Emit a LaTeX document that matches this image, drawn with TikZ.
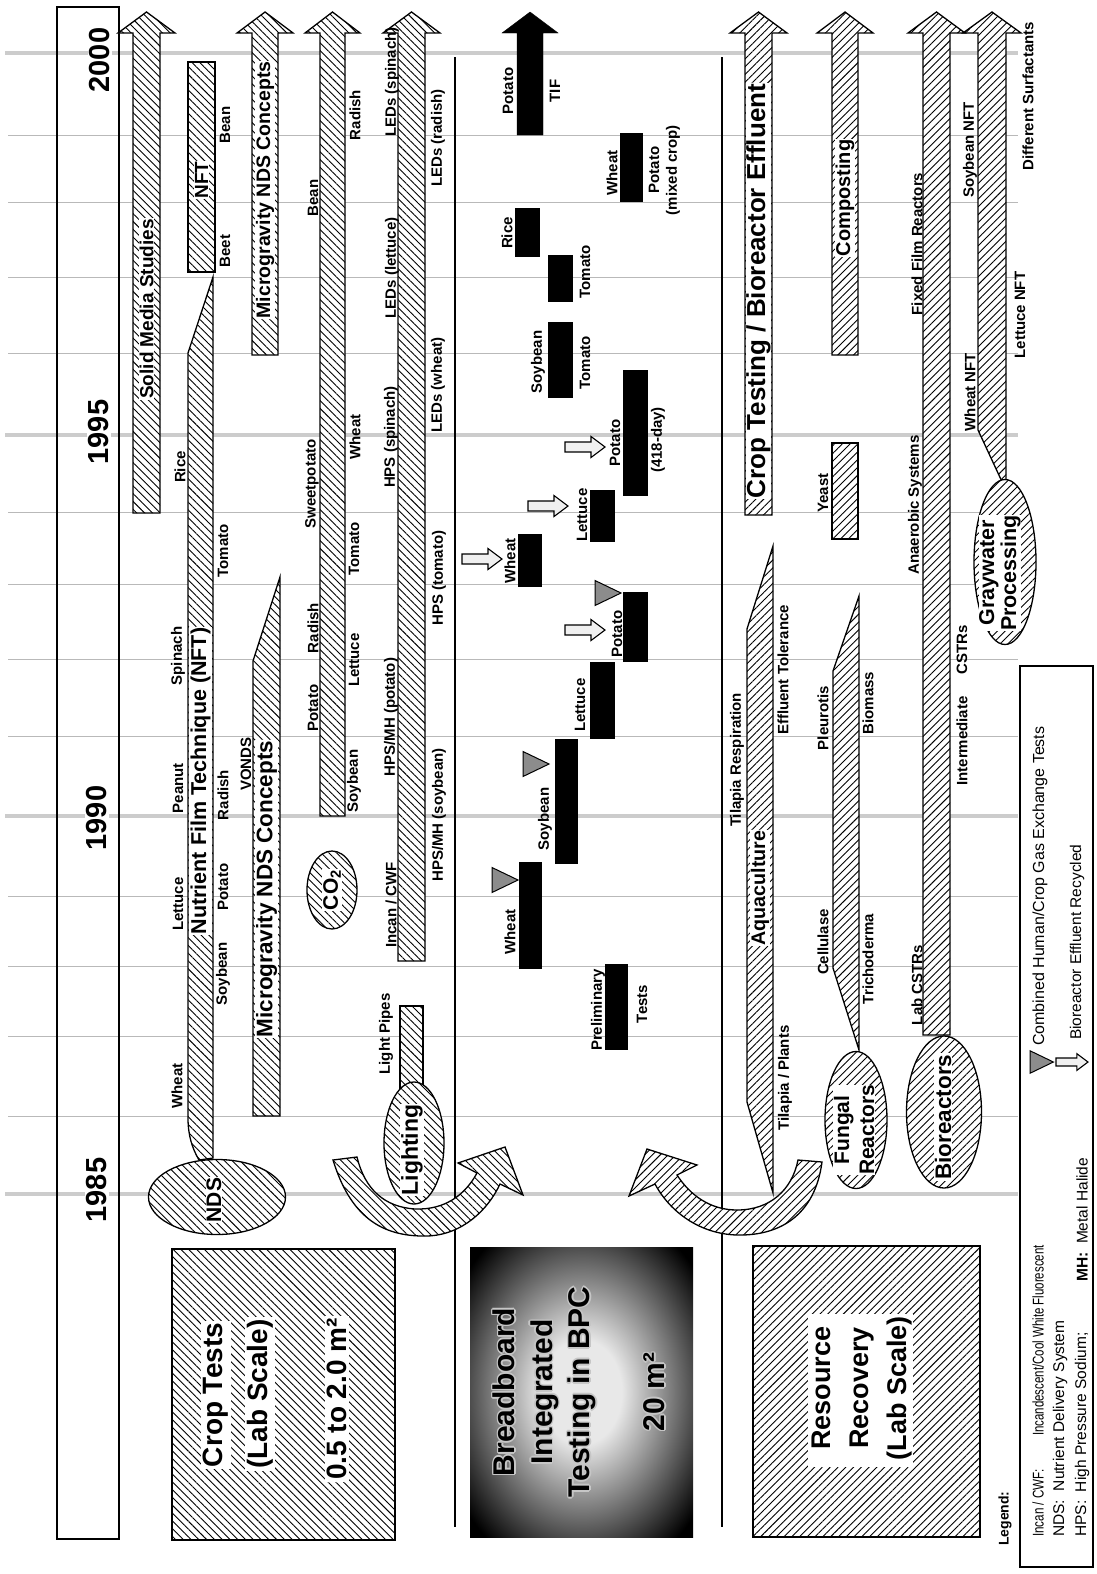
\documentclass[tikz,border=0pt]{standalone}
\usepackage{fontspec}
\setmainfont{Liberation Sans}
\usetikzlibrary{patterns.meta,shapes.geometric}
\colorlet{bpclight}{gray!18}
\pgfdeclareradialshading{bpcshade}{\pgfpoint{0bp}{0bp}}{color(0bp)=(bpclight); color(9bp)=(bpclight); color(33bp)=(black); color(50bp)=(black)}
\newcommand\myfs[1]{\fontsize{#1}{#1}\selectfont}
\newcommand\hatcharrow[4]{\draw[#4] (#1,#3) -- (#1,33) -- ({#1-15},33) -- ({(#1+#2)/2},12) -- ({#2+15},33) -- (#2,33) -- (#2,#3) -- cycle;}
\newcommand\bpclines{Breadboard\\Integrated\\Testing in BPC\\[37.5pt]20 m²}
\tikzset{
 hA/.style={draw,line width=1.3pt,fill=white,postaction={pattern={Lines[angle=-45,distance=5.5pt,line width=0.9pt]}}},
 hB/.style={draw,line width=1.3pt,fill=white,postaction={pattern={Lines[angle=45,distance=5.5pt,line width=0.9pt]}}},
 lab/.style={rotate=90,inner sep=0pt,font=\bfseries\myfs{15}},
 btxt/.style={rotate=90,fill=white,inner sep=1pt},
 blk/.style={fill=black},
 gline/.style={gray!55,line width=0.9pt},
 yline/.style={gray!40,line width=4pt},
 gtri/.pic={\draw[line width=1pt,fill=black!45] (0,-12.5) -- (26,0) -- (0,12.5) -- cycle;},
 effarr/.pic={\draw[line width=1.1pt,fill=gray!12] (0,-5) -- (26,-5) -- (26,-10.5) -- (40,0) -- (26,10.5) -- (26,5) -- (0,5) -- cycle;},
 bpcfont/.style={rotate=90,align=center,inner sep=0pt,font=\bfseries\fontsize{30}{37.5}\selectfont},
 legtxt/.style={rotate=90,anchor=west,inner sep=0pt},
 yeartxt/.style={rotate=90,fill=white,inner sep=2pt,font=\bfseries\myfs{29}},
}
\begin{document}
\begin{tikzpicture}[x=1pt,y=-1pt]
\useasboundingbox (0,0) rectangle (1096,1574);
\fill[white] (0,0) rectangle (1096,1574);
% grid
\foreach \yy in {135,202,277,353,512,584,659,736,896,966,1036,1116} \draw[gline] (8,\yy) -- (1018,\yy);
\foreach \yy in {53,435,816,1194} \draw[yline] (5,\yy) -- (1018,\yy);
% title bar
\draw[line width=1.5pt] (57,7) rectangle (119,1539);
\node[yeartxt] (y2000) at (100,60) {2000};
\node[yeartxt] (y1995) at (99,432) {1995};
\node[yeartxt] (y1990) at (97,818) {1990};
\node[yeartxt] (y1985) at (97,1190) {1985};
% dividers
\draw[line width=1.5pt] (455,57) -- (455,1527);
\draw[line width=1.5pt] (722,57) -- (722,1527);

% ===== crop tests section =====
\hatcharrow{133}{160}{513}{hA}
\node[btxt,font=\bfseries\myfs{19}] (sms) at (146.5,309) {Solid Media Studies};
\draw[hA] (188,353) -- (213,277) -- (213,1158) -- (199,1160) .. controls (192,1148) and (188,1135) .. (188,1118) -- cycle;
\node[btxt,font=\bfseries\myfs{21.5}] (nftt) at (200.5,781) {Nutrient Film Technique (NFT)};
\draw[hA] (188,62) rectangle (215,272);
\node[btxt,font=\bfseries\myfs{19}] (nftb) at (201.5,180) {NFT};
\draw[hA] (253,1116) -- (253,661) -- (280,577) -- (280,1116) -- cycle;
\node[btxt,font=\bfseries\myfs{22.5}] (mgl) at (266.5,889) {Microgravity NDS Concepts};
\hatcharrow{252}{278}{355}{hA}
\node[btxt,font=\bfseries\myfs{19.5}] (mgu) at (265,190) {Microgravity NDS Concepts};
\hatcharrow{320}{345}{816}{hA}
\node[ellipse,hA,minimum width=50pt,minimum height=78pt,inner sep=0pt] (co2e) at (332,890) {};
\node[btxt,font=\bfseries\myfs{21}] (co2) at (332,890) {CO\textsubscript{2}};
\node[ellipse,hA,minimum width=137pt,minimum height=75pt,inner sep=0pt] (ndse) at (217,1197) {};
\node[btxt,font=\bfseries\myfs{21}] (nds) at (214,1200) {NDS};
\hatcharrow{398}{425}{961}{hA}
\draw[hA] (400,1006) rectangle (423,1090);
\draw[hA] (333,1160) .. controls (350,1215) and (380,1237) .. (427,1236) .. controls (462,1235) and (488,1210) .. (500,1184) -- (523,1195) -- (505,1147) -- (458,1163) -- (477,1173) .. controls (465,1195) and (445,1210) .. (415,1209) .. controls (385,1207) and (365,1190) .. (357,1157) -- cycle;
\node[ellipse,hA,minimum width=60pt,minimum height=122pt,inner sep=0pt] (lighte) at (414,1143) {};
\node[btxt,font=\bfseries\myfs{23}] (light) at (412,1150) {Lighting};
\draw[hA] (172,1249) rectangle (395,1540);
\node[btxt,inner sep=2pt,font=\bfseries\myfs{28}] (ct1) at (216,1395) {Crop Tests};
\node[btxt,inner sep=2pt,font=\bfseries\myfs{28}] (ct2) at (260,1394) {(Lab Scale)};
\node[btxt,inner sep=2pt,font=\bfseries\myfs{28}] (ct3) at (337,1399) {0.5 to 2.0 m²};

% crop labels
\node[lab] (cw1) at (177,1086) {Wheat};
\node[lab] (cl1) at (178,904) {Lettuce};
\node[lab] (cp1) at (178,788) {Peanut};
\node[lab] (cs1) at (178,656) {Spinach};
\node[lab] (cr1) at (180,467) {Rice};
\node[lab] (cs2) at (223,974) {Soybean};
\node[lab] (cp2) at (223,887) {Potato};
\node[lab] (cr2) at (223,795) {Radish};
\node[lab] (ct4) at (223,551) {Tomato};
\node[lab] (cb1) at (225,251) {Beet};
\node[lab] (cb2) at (225,125) {Bean};
\node[lab] (cv1) at (246,764) {VONDS};
\node[lab] (dp1) at (313,708) {Potato};
\node[lab] (dr1) at (313,628) {Radish};
\node[lab] (ds1) at (312,484) {Sweetpotato};
\node[lab] (db1) at (313,198) {Bean};
\node[lab] (ds2) at (354,781) {Soybean};
\node[lab] (dl1) at (354,660) {Lettuce};
\node[lab] (dt1) at (354,549) {Tomato};
\node[lab] (dw1) at (355,437) {Wheat};
\node[lab] (dr2) at (355,115) {Radish};
\node[lab] (el1) at (386,1034) {Light Pipes};
\node[lab] (el2) at (391,905) {Incan / CWF};
\node[lab] (el3) at (391,717) {HPS/MH (potato)};
\node[lab] (el4) at (391,437) {HPS (spinach)};
\node[lab] (el5) at (392,268) {LEDs (lettuce)};
\node[lab] (el6) at (392,82) {LEDs (spinach)};
\node[lab] (er1) at (439,815) {HPS/MH (soybean)};
\node[lab] (er2) at (439,578) {HPS (tomato)};
\node[lab] (er3) at (438,385) {LEDs (wheat)};
\node[lab] (er4) at (438,138) {LEDs (radish)};

% ===== BPC section =====
\shade[shading=bpcshade] (470,1247) rectangle (693,1537);
\foreach \dx/\dy [count=\k] in {1.6/0,-1.6/0,0/1.6,0/-1.6,1.1/1.1,1.1/-1.1,-1.1/1.1,-1.1/-1.1}
  \node[bpcfont,text=gray!45] (bpch\k) at ({579+(\dx)},{1392+(\dy)}) {\bpclines};
\node[bpcfont] (bpc) at (579,1392) {\bpclines};
\fill[blk] (605,964) rectangle (628,1050);
\fill[blk] (519,862) rectangle (542,969);
\fill[blk] (555,739) rectangle (578,864);
\fill[blk] (590,662) rectangle (615,739);
\fill[blk] (623,592) rectangle (648,662);
\fill[blk] (518,534) rectangle (542,587);
\fill[blk] (590,490) rectangle (615,542);
\fill[blk] (623,370) rectangle (648,496);
\fill[blk] (548,322) rectangle (573,398);
\fill[blk] (548,255) rectangle (573,302);
\fill[blk] (515,208) rectangle (540,257);
\fill[blk] (620,133) rectangle (643,202);
\hatcharrow{517}{543}{135}{draw=black,fill=black}
\pic (t1) at (492,880) {gtri};
\pic (t2) at (523,764) {gtri};
\pic (t3) at (595,593) {gtri};
\pic (e1) at (565,630) {effarr};
\pic (e2) at (462,559) {effarr};
\pic (e3) at (528,506) {effarr};
\pic (e4) at (565,447) {effarr};
\node[lab] (b1) at (598,1010) {Preliminary};
\node[lab] (b2) at (642,1004) {Tests};
\node[lab] (b3) at (510,932) {Wheat};
\node[lab] (b4) at (545,819) {Soybean};
\node[lab] (b5) at (580,705) {Lettuce};
\node[lab] (b6) at (617,634) {Potato};
\node[lab] (b7) at (510,561) {Wheat};
\node[lab] (b8) at (582,515) {Lettuce};
\node[lab] (b9) at (615,443) {Potato};
\node[lab] (b10) at (658,440) {(418-day)};
\node[lab] (b11) at (538,362) {Soybean};
\node[lab] (b12) at (585,363) {Tomato};
\node[lab] (b13) at (585,272) {Tomato};
\node[lab] (b14) at (507,233) {Rice};
\node[lab] (b15) at (612,173) {Wheat};
\node[lab] (b16) at (654,170) {Potato};
\node[lab] (b17) at (673,170) {(mixed crop)};
\node[lab] (b18) at (508,91) {Potato};
\node[lab] (b19) at (555,91) {TIF};

% ===== resource recovery section =====
\hatcharrow{745}{772}{515}{hB}
\node[btxt,inner sep=0.5pt,font=\bfseries\myfs{26}] (ctbe) at (758.5,291) {Crop Testing / Bioreactor Effluent};
\draw[hB] (747,629) -- (773,546) -- (773,1193) -- (747,1102) -- cycle;
\node[btxt,font=\bfseries\myfs{19.7}] (aqua) at (760,888) {Aquaculture};
\hatcharrow{832}{858}{355}{hB}
\node[btxt,font=\bfseries\myfs{20}] (comp) at (845,198) {Composting};
\draw[hB] (832,443) rectangle (858,539);
\draw[hB] (833,671) -- (859,596) -- (859,1050) -- (833,968) -- cycle;
\node[ellipse,hB,minimum width=62pt,minimum height=137pt,inner sep=0pt] (funge) at (856,1120) {};
\node[btxt,align=center,inner sep=0.5pt,font=\bfseries\fontsize{21}{25}\selectfont] (fung) at (854,1130) {Fungal\\Reactors};
\hatcharrow{923}{950}{1035}{hB}
\node[ellipse,hB,minimum width=75pt,minimum height=152pt,inner sep=0pt] (bioe) at (944,1112) {};
\node[btxt,font=\bfseries\myfs{22.5}] (bio) at (943,1117) {Bioreactors};
\draw[hB] (978,33) -- (978,430) -- (1004,486) -- (1006,486) -- (1006,33) -- (1021,33) -- (992,12) -- (963,33) -- cycle;
\node[ellipse,hB,minimum width=62pt,minimum height=165pt,inner sep=0pt] (graye) at (1005,562) {};
\node[btxt,align=center,inner sep=0.5pt,font=\bfseries\fontsize{21.5}{22}\selectfont] (gray) at (1000,573) {Graywater\\Processing};
\draw[hB] (822,1162) .. controls (815,1215) and (780,1236) .. (737,1235) .. controls (700,1234) and (670,1212) .. (655,1184) -- (629,1196) -- (647,1149) -- (697,1165) -- (677,1175) .. controls (690,1195) and (710,1210) .. (737,1210) .. controls (770,1210) and (792,1190) .. (798,1160) -- cycle;
\draw[hB] (753,1246) rectangle (980,1537);
\fill[white] (808,1314) rectangle (913,1467);
\node[rotate=90,align=center,inner sep=0pt,font=\bfseries\fontsize{27}{38}\selectfont] (rr) at (862,1388) {Resource\\Recovery\\(Lab Scale)};
\node[lab] (r1) at (785,1078) {Tilapia / Plants};
\node[lab] (r2) at (737,760) {Tilapia Respiration};
\node[lab] (r3) at (783,670) {Effluent Tolerance};
\node[lab] (r4) at (823,493) {Yeast};
\node[lab] (r5) at (823,942) {Cellulase};
\node[lab] (r6) at (823,718) {Pleurotis};
\node[lab] (r7) at (868,959) {Trichoderma};
\node[lab] (r8) at (868,703) {Biomass};
\node[lab] (r9) at (917,985) {Lab CSTRs};
\node[lab] (r10) at (962,741) {Intermediate};
\node[lab] (r11) at (962,650) {CSTRs};
\node[lab] (r12) at (915,505) {Anaerobic Systems};
\node[lab] (r13) at (917,244) {Fixed Film Reactors};
\node[lab] (r14) at (970,392) {Wheat NFT};
\node[lab] (r15) at (970,150) {Soybean NFT};
\node[lab] (r16) at (1020,315) {Lettuce NFT};
\node[lab] (r17) at (1028,96) {Different Surfactants};

% ===== legend =====
\node[legtxt,font=\bfseries\myfs{14}] (legh) at (1005,1546) {Legend:};
\draw[line width=2.5pt,fill=white] (1020,666) rectangle (1093,1567);
\node[legtxt,font=\myfs{15.5}] (lg1) at (1038,1537) {\scalebox{0.75}[1]{Incan / CWF:}};
\node[legtxt,font=\myfs{15.5}] (lg2) at (1038,1436) {\scalebox{0.74}[1]{Incandescent/Cool White Fluorescent}};
\node[legtxt,font=\myfs{15.5}] (lg3) at (1060,1537) {NDS:\ \ Nutrient Delivery System};
\node[legtxt,font=\myfs{15.5}] (lg4) at (1082,1537) {HPS:\ \ High Pressure Sodium;};
\node[legtxt,font=\myfs{15.5}] (lg5) at (1082,1282) {\textbf{MH:}\ \ Metal Halide};
\pic[scale=0.9] (lt) at (1030,1062) {gtri};
\node[legtxt,font=\myfs{16}] (lg6) at (1040,1046) {Combined Human/Crop Gas Exchange Tests};
\pic[scale=0.8] (le) at (1056,1062) {effarr};
\node[legtxt,font=\myfs{15.5}] (lg7) at (1077,1040) {Bioreactor Effluent Recycled};
\end{tikzpicture}
\end{document}
